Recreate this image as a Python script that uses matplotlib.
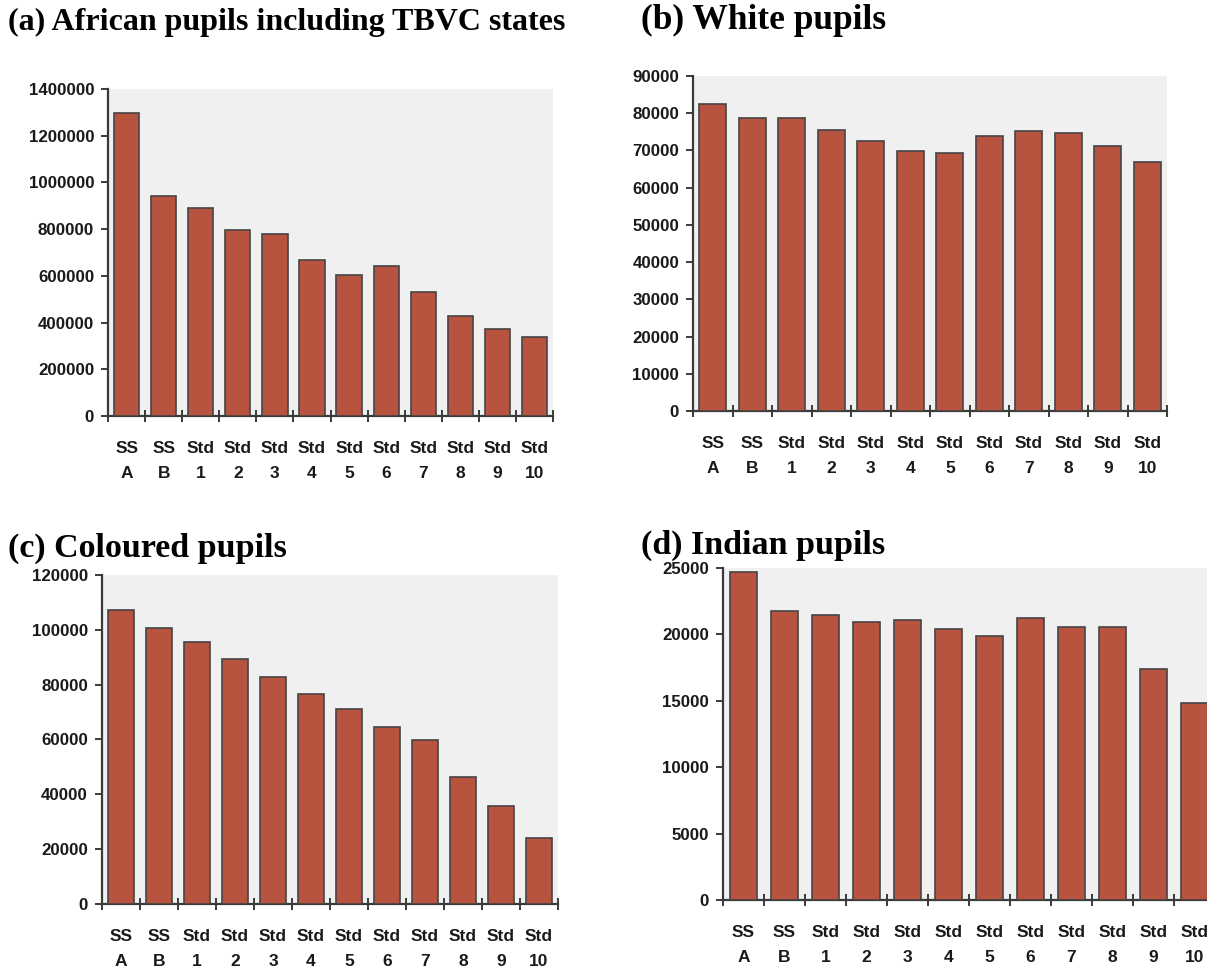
import matplotlib
matplotlib.use("Agg")
import matplotlib.pyplot as plt
import numpy as np

# Класи: підготовчі (SS A, SS B) та стандарти 1-10
categories = ["SS\nA", "SS\nB", "Std\n1", "Std\n2", "Std\n3", "Std\n4",
              "Std\n5", "Std\n6", "Std\n7", "Std\n8", "Std\n9", "Std\n10"]

# Кількість учнів за класами
african = [1297000, 942000, 889000, 795000, 777000, 668000,
           604000, 640000, 532000, 430000, 371000, 340000]
white = [82600, 78800, 78600, 75500, 72500, 69900,
         69200, 73900, 75300, 74800, 71300, 66900]
coloured = [107200, 100600, 95700, 89400, 82900, 76700,
            71200, 64700, 59700, 46300, 35600, 24000]
indian = [24670, 21800, 21450, 20970, 21050, 20390,
          19890, 21220, 20540, 20590, 17370, 14800]

titles = ["(a) African pupils including TBVC states", "(b) White pupils",
          "(c) Coloured pupils", "(d) Indian pupils"]
ymax = [1400000, 90000, 120000, 25000]
ystep = [200000, 10000, 20000, 5000]

bar_color = "#b7533e"
edge_color = "#454545"
axis_color = "#3a3a3a"

fig = plt.figure(figsize=(12.07, 9.67), dpi=100)
fig.patch.set_facecolor("white")

# Положення осей (частки рисунка)
rects = [
    [0.0895, 0.5698, 0.3687, 0.3382],
    [0.5742, 0.5750, 0.3927, 0.3464],
    [0.0845, 0.0652, 0.3778, 0.3402],
    [0.5990, 0.0693, 0.4076, 0.3433],
]
title_pos = [(0.0066, 0.977), (0.531, 0.979), (0.0066, 0.433), (0.531, 0.436)]
title_size = [23, 25.5, 24.5, 24.5]

data = [african, white, coloured, indian]
x = np.arange(len(categories))

for i in range(4):
    ax = fig.add_axes(rects[i])
    ax.set_facecolor("#f0f0f0")
    ax.bar(x, data[i], width=0.68, color=bar_color, edgecolor=edge_color,
           linewidth=1.2, zorder=3)
    ax.set_xlim(-0.5, len(categories) - 0.5)
    ax.set_ylim(0, ymax[i])
    ax.set_yticks(np.arange(0, ymax[i] + 1, ystep[i]))
    ax.set_yticklabels([str(v) for v in range(0, ymax[i] + 1, ystep[i])],
                       fontsize=12.2, fontweight="bold", family="Liberation Sans",
                       color="#1a1a1a")
    ax.set_xticks(x)
    ax.set_xticklabels(categories, fontsize=12.5, fontweight="bold",
                       family="Liberation Sans", color="#1a1a1a", linespacing=1.85)
    ax.set_xticks(np.arange(-0.5, len(categories), 1), minor=True)
    ax.tick_params(axis="x", which="major", length=0, pad=18)
    ax.tick_params(axis="x", which="minor", length=8, direction="inout",
                   width=1.4, color=axis_color)
    ax.tick_params(axis="y", length=5, width=1.4, color=axis_color, pad=5)
    for side in ["top", "right"]:
        ax.spines[side].set_visible(False)
    for side in ["left", "bottom"]:
        ax.spines[side].set_color(axis_color)
        ax.spines[side].set_linewidth(1.6)
    fig.text(title_pos[i][0], title_pos[i][1], titles[i], fontsize=title_size[i],
             fontweight="bold", family="Liberation Serif", va="center", ha="left")

fig.savefig("out.png", dpi=100)
